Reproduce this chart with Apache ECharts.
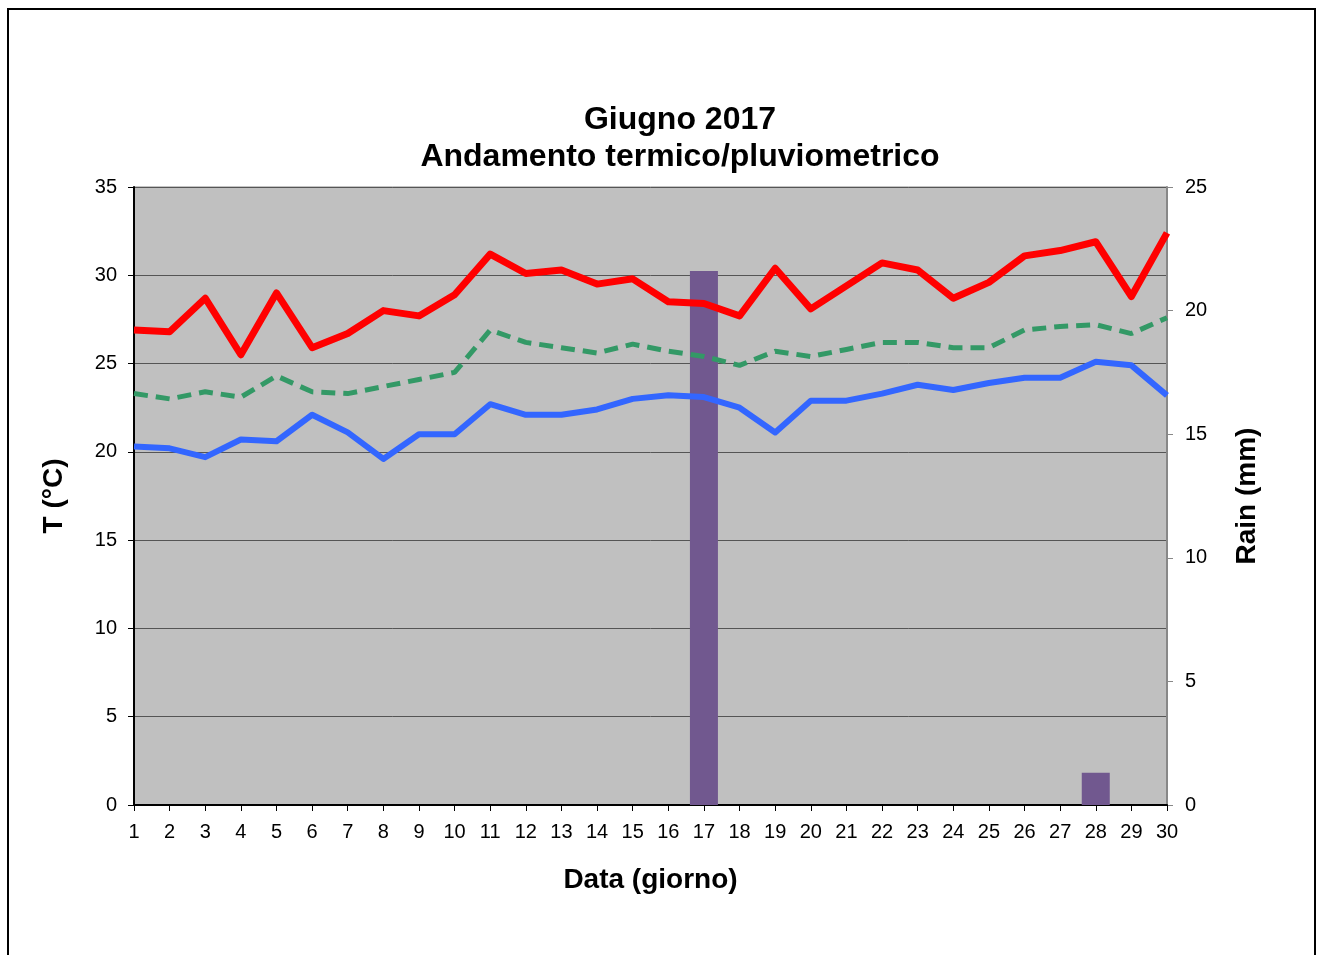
<!DOCTYPE html>
<html lang="it">
<head>
	<meta charset="UTF-8">
	<title>Giugno 2017</title>
	<script src="https://cdn.jsdelivr.net/npm/echarts@6/dist/echarts.min.js"></script>
	<style>
		html, body { margin: 0; padding: 0; background: #fff; }
	</style>
</head>
<body>
	<div id="chart" style="width: 1319px; height: 955px;"></div>
	<script type="text/javascript">
		// giorni del mese
		const days = ['1','2','3','4','5','6','7','8','9','10','11','12','13','14','15','16','17','18','19','20','21','22','23','24','25','26','27','28','29','30'];

		// temperature (°C)
		const tMax = [26.9, 26.8, 28.7, 25.5, 29.0, 25.9, 26.7, 28.0, 27.7, 28.9, 31.2, 30.1, 30.3, 29.5, 29.8, 28.5, 28.4, 27.7, 30.4, 28.1, 29.4, 30.7, 30.3, 28.7, 29.6, 31.1, 31.4, 31.9, 28.8, 32.4];
		const tMed = [23.3, 23.0, 23.4, 23.1, 24.3, 23.4, 23.3, 23.7, 24.1, 24.5, 26.9, 26.2, 25.9, 25.6, 26.1, 25.7, 25.4, 24.9, 25.7, 25.4, 25.8, 26.2, 26.2, 25.9, 25.9, 26.9, 27.1, 27.2, 26.7, 27.6];
		const tMin = [20.3, 20.2, 19.7, 20.7, 20.6, 22.1, 21.1, 19.6, 21.0, 21.0, 22.7, 22.1, 22.1, 22.4, 23.0, 23.2, 23.1, 22.5, 21.1, 22.9, 22.9, 23.3, 23.8, 23.5, 23.9, 24.2, 24.2, 25.1, 24.9, 23.2];

		// pioggia (mm)
		const rain = [0, 0, 0, 0, 0, 0, 0, 0, 0, 0, 0, 0, 0, 0, 0, 0, 21.6, 0, 0, 0, 0, 0, 0, 0, 0, 0, 0, 1.3, 0, 0];

		const FONT = 'Liberation Sans, Arial, sans-serif';

		const chart = echarts.init(document.getElementById('chart'));
		chart.setOption({
			animation: false,
			backgroundColor: '#fff',
			title: {
				text: 'Giugno 2017\nAndamento termico/pluviometrico',
				left: 680,
				top: 102,
				padding: 0,
				textAlign: 'center',
				textStyle: {
					fontFamily: FONT,
					fontSize: 32,
					fontWeight: 'bold',
					lineHeight: 37,
					color: '#000'
				}
			},
			graphic: [{
				type: 'rect',
				shape: { x: 8, y: 9, width: 1307, height: 960 },
				style: { fill: 'none', stroke: '#000', lineWidth: 2 },
				silent: true
			}],
			grid: {
				left: 134,
				right: 152,
				top: 187,
				bottom: 150,
				show: true,
				backgroundColor: '#c0c0c0',
				borderColor: '#888',
				borderWidth: 1
			},
			xAxis: {
				type: 'category',
				data: days,
				boundaryGap: false,
				name: 'Data (giorno)',
				nameLocation: 'middle',
				nameGap: 61,
				nameTextStyle: { fontFamily: FONT, fontSize: 28, fontWeight: 'bold', color: '#000' },
				axisLine: { lineStyle: { color: '#000', width: 2 } },
				axisTick: { interval: 0, length: 6, lineStyle: { color: '#000' } },
				axisLabel: { interval: 0, margin: 17, fontFamily: FONT, fontSize: 20, color: '#000' },
				splitLine: { show: false }
			},
			yAxis: [{
				type: 'value',
				min: 0,
				max: 35,
				interval: 5,
				name: 'T (°C)',
				nameLocation: 'middle',
				nameRotate: 90,
				nameGap: 66,
				nameTextStyle: { fontFamily: FONT, fontSize: 28, fontWeight: 'bold', color: '#000' },
				axisLine: { show: true, lineStyle: { color: '#000', width: 2 } },
				axisTick: { show: true, length: 6, lineStyle: { color: '#000' } },
				axisLabel: { margin: 17, fontFamily: FONT, fontSize: 20, color: '#000' },
				splitLine: { show: true, lineStyle: { color: '#555', width: 1 } }
			}, {
				type: 'value',
				position: 'right',
				min: 0,
				max: 25,
				interval: 5,
				name: 'Rain (mm)',
				nameLocation: 'middle',
				nameRotate: 90,
				nameGap: 66,
				nameTextStyle: { fontFamily: FONT, fontSize: 28, fontWeight: 'bold', color: '#000' },
				axisLine: { show: true, lineStyle: { color: '#888', width: 2 } },
				axisTick: { show: true, length: 6, lineStyle: { color: '#888' } },
				axisLabel: { margin: 18, fontFamily: FONT, fontSize: 20, color: '#000' },
				splitLine: { show: false }
			}],
			series: [{
				name: 'Pioggia',
				type: 'bar',
				yAxisIndex: 1,
				data: rain,
				barWidth: 28,
				itemStyle: { color: '#71588f' }
			}, {
				name: 'T max',
				type: 'line',
				data: tMax,
				symbol: 'none',
				lineStyle: { color: '#ff0000', width: 7, join: 'round' }
			}, {
				name: 'T med',
				type: 'line',
				data: tMed,
				symbol: 'none',
				lineStyle: { color: '#339966', width: 5, type: [14, 8] }
			}, {
				name: 'T min',
				type: 'line',
				data: tMin,
				symbol: 'none',
				lineStyle: { color: '#3366ff', width: 6, join: 'round' }
			}]
		});
	</script>
</body>
</html>
